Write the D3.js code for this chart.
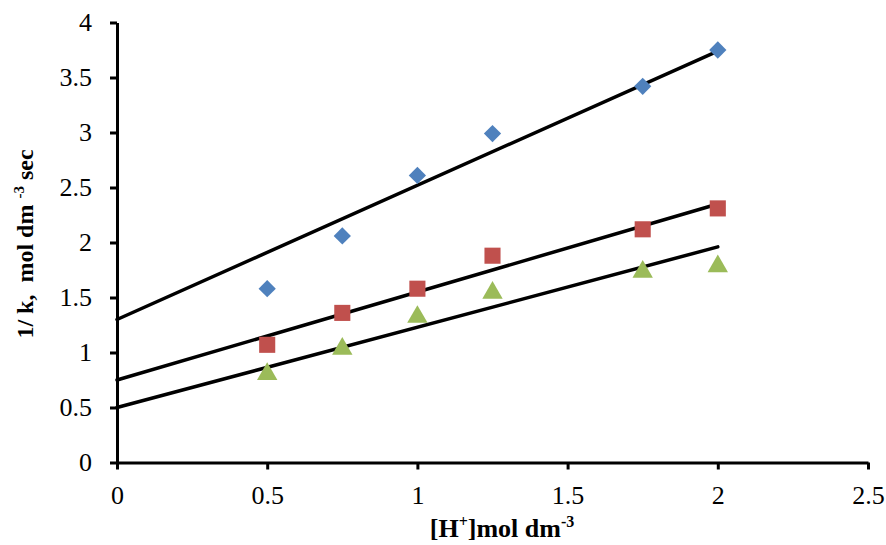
<!DOCTYPE html>
<html lang="en">
<head>
  <meta charset="utf-8">
  <title>1/k vs [H+]</title>
  <script src="https://d3js.org/d3.v7.min.js"></script>
  <style>
    body { margin: 0; background: #fff; }
    text { font-family: "Liberation Serif", "Times New Roman", serif; }
  </style>
</head>
<body>
<svg id="chart" width="886" height="545"></svg>
<script>
// data
var hConc = [0.5, 0.75, 1, 1.25, 1.75, 2];
var blueVals = [1.58, 2.06, 2.61, 2.99, 3.42, 3.75];
var redVals = [1.07, 1.36, 1.58, 1.88, 2.12, 2.31];
var greenVals = [0.83, 1.06, 1.35, 1.57, 1.76, 1.81];

// fitted lines, [x, y] at both ends
var blueFit = [[0, 1.30], [2, 3.74]];
var redFit = [[0, 0.75], [2, 2.35]];
var greenFit = [[0, 0.50], [2, 1.96]];

var xTicks = [0, 0.5, 1, 1.5, 2, 2.5];
var yTicks = [0, 0.5, 1, 1.5, 2, 2.5, 3, 3.5, 4];

var svg = d3.select("#chart");

var x = d3.scaleLinear().domain([0, 2.5]).range([117, 868]);
var y = d3.scaleLinear().domain([0, 4]).range([462.5, 22.5]);

// axes
var xAxis = d3.axisBottom(x).tickValues(xTicks).tickSize(7).tickSizeOuter(0)
    .tickFormat(d3.format(""));
var yAxis = d3.axisLeft(y).tickValues(yTicks).tickSize(7).tickSizeOuter(0)
    .tickFormat(d3.format(""));

var gx = svg.append("g").attr("transform", "translate(0," + y(0) + ")").call(xAxis);
var gy = svg.append("g").attr("transform", "translate(" + x(0) + ",0)").call(yAxis);

[gx, gy].forEach(function(g) {
    g.select(".domain").attr("stroke", "#000").attr("stroke-width", 3);
    g.selectAll(".tick line").attr("stroke", "#000").attr("stroke-width", 3);
    g.selectAll(".tick text").attr("fill", "#000")
        .style("font-size", "26px").style("font-family", "'Liberation Serif', serif");
});
gx.selectAll(".tick text").attr("dy", "1.2em");
gy.selectAll(".tick text").attr("dx", "-0.58em");

// fit lines
var line = d3.line().x(function(d) { return x(d[0]); }).y(function(d) { return y(d[1]); });
[blueFit, redFit, greenFit].forEach(function(f) {
    svg.append("path").attr("d", line(f))
        .attr("fill", "none").attr("stroke", "#000").attr("stroke-width", 3.5)
        .attr("stroke-linecap", "round");
});

// markers (triangle shifted so its box, not its centroid, sits on the value)
var series = [
    {vals: blueVals, color: "#4F81BD", sym: d3.symbolDiamond2, size: 190, dy: 0},
    {vals: redVals, color: "#C0504D", sym: d3.symbolSquare2, size: 330, dy: 0},
    {vals: greenVals, color: "#9BBB59", sym: d3.symbolTriangle, size: 180,
     dy: Math.sqrt(180 / (Math.sqrt(3) * 3)) / 2}
];

series.forEach(function(s) {
    svg.append("g").selectAll("path")
        .data(hConc)
        .enter()
        .append("path")
        .attr("d", d3.symbol().type(s.sym).size(s.size))
        .attr("transform", function(d, i) {
            return "translate(" + x(d) + "," + (y(s.vals[i]) + s.dy) + ")";
        })
        .attr("fill", s.color);
});

// axis titles
var xt = svg.append("text")
    .attr("x", 502).attr("y", 537)
    .attr("text-anchor", "middle")
    .style("font-size", "26px").style("font-weight", "bold");
xt.append("tspan").text("[H");
xt.append("tspan").attr("dy", -10).style("font-size", "16px").text("+");
xt.append("tspan").attr("dy", 10).text("]mol dm");
xt.append("tspan").attr("dy", -10).style("font-size", "16px").text("-3");

var yt = svg.append("text")
    .attr("transform", "translate(33,244) rotate(-90)")
    .attr("text-anchor", "middle")
    .style("font-size", "24px").style("font-weight", "bold")
    .style("white-space", "pre");
yt.append("tspan").text("1/ k,  mol dm ");
yt.append("tspan").attr("dy", -9).style("font-size", "15px").text("-3");
yt.append("tspan").attr("dy", 9).text(" sec");
</script>
</body>
</html>
